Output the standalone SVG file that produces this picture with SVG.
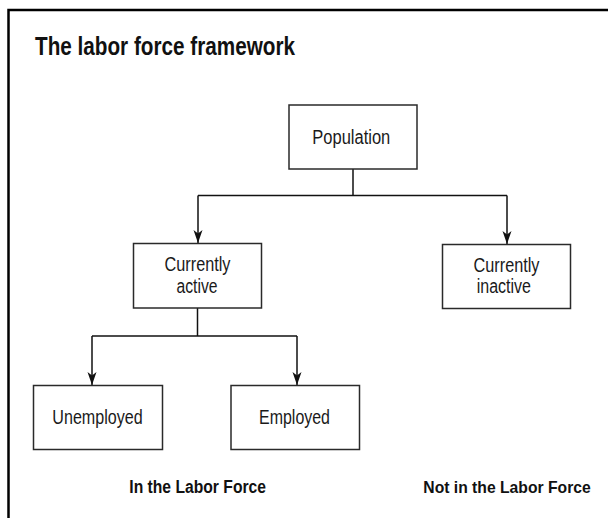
<svg xmlns="http://www.w3.org/2000/svg" width="608" height="518" viewBox="0 0 608 518">
  <style>
    .box { fill: #ffffff; stroke: #2a2a2a; stroke-width: 1.5; }
    .lbl { font-family: "Liberation Sans Narrow", "Liberation Sans", Arial, sans-serif; font-size: 20px; fill: #1a1a1a; }
    .bold { font-family: "Liberation Sans Narrow", "Liberation Sans", Arial, sans-serif; font-weight: bold; fill: #111111; }
    .conn { fill: none; stroke: #111111; stroke-width: 1.5; }
  </style>
  <defs>
    <marker id="arrow" markerUnits="userSpaceOnUse" markerWidth="16" markerHeight="12" refX="14" refY="6" orient="auto" viewBox="0 0 16 12">
      <path d="M14,6 L1,1.5 L4.5,6 L1,10.5 Z" fill="#111111"/>
    </marker>
  </defs>
  <rect x="0" y="0" width="608" height="518" fill="#ffffff"/>
  <rect x="8.5" y="10" width="700" height="600" fill="none" stroke="#000000" stroke-width="2.5"/>
  <text class="bold" x="35" y="55" font-size="25" textLength="260" lengthAdjust="spacingAndGlyphs">The labor force framework</text>

  <g id="connectors">
    <path class="conn" d="M353,169 V195.5"/>
    <path class="conn" d="M198,195.5 H507"/>
    <path class="conn" d="M198,195.5 V243" marker-end="url(#arrow)"/>
    <path class="conn" d="M507,195.5 V244" marker-end="url(#arrow)"/>
    <path class="conn" d="M197.5,308 V336"/>
    <path class="conn" d="M92,336 H297"/>
    <path class="conn" d="M92,336 V385" marker-end="url(#arrow)"/>
    <path class="conn" d="M297,336 V385" marker-end="url(#arrow)"/>
  </g>

  <g id="population">
    <rect class="box" x="289" y="105" width="128" height="64"/>
    <text class="lbl" x="312.3" y="144.3" textLength="78" lengthAdjust="spacingAndGlyphs">Population</text>
  </g>
  <g id="currently-active">
    <rect class="box" x="133.5" y="243.5" width="128" height="64.5"/>
    <text class="lbl" x="164.5" y="271" textLength="66" lengthAdjust="spacingAndGlyphs">Currently</text>
    <text class="lbl" x="176.5" y="293.3" textLength="41" lengthAdjust="spacingAndGlyphs">active</text>
  </g>
  <g id="currently-inactive">
    <rect class="box" x="442.5" y="244.5" width="128" height="64"/>
    <text class="lbl" x="473.5" y="271.7" textLength="66" lengthAdjust="spacingAndGlyphs">Currently</text>
    <text class="lbl" x="476.7" y="293.3" textLength="54.3" lengthAdjust="spacingAndGlyphs">inactive</text>
  </g>
  <g id="unemployed">
    <rect class="box" x="33.5" y="385.5" width="129" height="64"/>
    <text class="lbl" x="52.3" y="424.3" textLength="90.4" lengthAdjust="spacingAndGlyphs">Unemployed</text>
  </g>
  <g id="employed">
    <rect class="box" x="231" y="385.5" width="128.5" height="64"/>
    <text class="lbl" x="259" y="424.3" textLength="71" lengthAdjust="spacingAndGlyphs">Employed</text>
  </g>

  <text class="bold" x="129.3" y="493.3" font-size="18" textLength="136.7" lengthAdjust="spacingAndGlyphs">In the Labor Force</text>
  <text class="bold" x="423.3" y="493.3" font-size="17" textLength="167.4" lengthAdjust="spacingAndGlyphs">Not in the Labor Force</text>
</svg>
